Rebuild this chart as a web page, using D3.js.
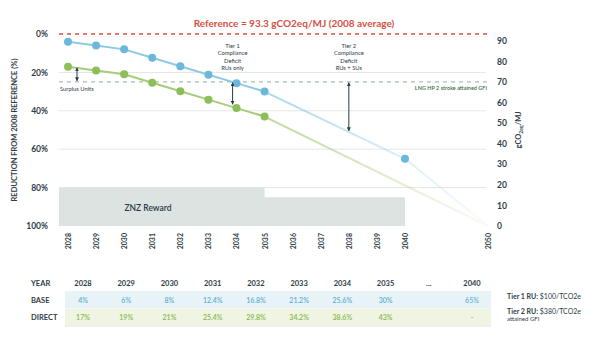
<!DOCTYPE html>
<html>
<head>
<meta charset="utf-8">
<script src="https://cdn.jsdelivr.net/npm/d3@7"></script>
<style>
  body { margin: 0; background: #fff; }
  svg { font-family: Lato, "Open Sans", sans-serif; }
</style>
</head>
<body>
<svg id="chart" width="600" height="341"></svg>
<script>
// chart data
const years = [2028, 2029, 2030, 2031, 2032, 2033, 2034, 2035, 2036, 2037, 2038, 2039, 2040, 2050];
const baseVals = [4, 6, 8, 12.4, 16.8, 21.2, 25.6, 30];
const directVals = [17, 19, 21, 25.4, 29.8, 34.2, 38.6, 43];
const baseTail = [[2035, 30], [2040, 65], [2050, 100]];
const directTail = [[2035, 43], [2050, 100]];
const pctTicks = [0, 20, 40, 60, 80, 100];
const gfiTicks = [0, 10, 20, 30, 40, 50, 60, 70, 80, 90];
const referenceGfi = 93.3;
const lngGfi = 70;
const znzSteps = [[2028, 80], [2035, 85], [2040, 85]];

// table data
const tableYears = ["2028", "2029", "2030", "2031", "2032", "2033", "2034", "2035", "...", "2040"];
const tableBase = ["4%", "6%", "8%", "12.4%", "16.8%", "21.2%", "25.6%", "30%", "", "65%"];
const tableDirect = ["17%", "19%", "21%", "25.4%", "29.8%", "34.2%", "38.6%", "43%", "", "-"];

const svg = d3.select("#chart");
const dark = "#2d3c47";
const blue = "#6cb7da", blueLine = "#8dcbe2";
const green = "#8dbf59", greenLine = "#a7cc78";
const red = "#d6503f";

const plotLeft = 59, plotRight = 488, plotTop = 34, plotBottom = 226;
const x = d3.scaleLinear().domain([2028, 2040, 2050]).range([68, 405, 488]);
const y = d3.scaleLinear().domain([0, 100]).range([plotTop, plotBottom]);
const yR = d3.scaleLinear().domain([0, referenceGfi]).range([plotBottom, plotTop]);

// gradients for faded tails
const defs = svg.append("defs");
function fadeGrad(id, color) {
  const g = defs.append("linearGradient").attr("id", id)
    .attr("gradientUnits", "userSpaceOnUse")
    .attr("x1", x(2035)).attr("x2", x(2050)).attr("y1", 0).attr("y2", 0);
  g.append("stop").attr("offset", 0).attr("stop-color", color).attr("stop-opacity", 0.75);
  g.append("stop").attr("offset", 1).attr("stop-color", color).attr("stop-opacity", 0.05);
}
fadeGrad("fadeBlue", blueLine);
fadeGrad("fadeGreen", greenLine);
["arrowEnd", "arrowStart"].forEach((id, i) => {
  defs.append("marker").attr("id", id)
    .attr("viewBox", "0 0 10 10").attr("refX", 9).attr("refY", 5)
    .attr("markerWidth", 4).attr("markerHeight", 4)
    .attr("orient", i === 0 ? "auto" : "auto-start-reverse")
    .append("path").attr("d", "M0,0 L10,5 L0,10 z").attr("fill", dark);
});

// gridlines
svg.append("g").selectAll("line").data([20, 40, 60, 80]).join("line")
  .attr("x1", plotLeft).attr("x2", plotRight - 2)
  .attr("y1", d => y(d)).attr("y2", d => y(d))
  .attr("stroke", "#e3e6e6").attr("stroke-width", 1);

// ZNZ reward area
const znzArea = d3.area().curve(d3.curveStepAfter)
  .x(d => d[0] === 2028 ? plotLeft : x(d[0]))
  .y0(plotBottom).y1(d => y(d[1]));
svg.append("path").datum(znzSteps).attr("d", znzArea).attr("fill", "#dde3e1");
svg.append("text").attr("x", 148).attr("y", 211).attr("text-anchor", "middle")
  .attr("font-size", 8.5).attr("font-weight", 600).attr("fill", dark).text("ZNZ Reward");

// reference line
svg.append("line").attr("x1", plotLeft).attr("x2", plotRight)
  .attr("y1", y(0)).attr("y2", y(0))
  .attr("stroke", red).attr("stroke-width", 1.4).attr("stroke-dasharray", "4,4");
svg.append("text").attr("x", 294).attr("y", 27).attr("text-anchor", "middle")
  .attr("font-size", 10).attr("font-weight", 700).attr("fill", red)
  .text("Reference = 93.3 gCO2eq/MJ (2008 average)");

// LNG line
svg.append("line").attr("x1", plotLeft).attr("x2", plotRight)
  .attr("y1", yR(lngGfi)).attr("y2", yR(lngGfi))
  .attr("stroke", "#aabfb0").attr("stroke-width", 1.2).attr("stroke-dasharray", "4,4");
svg.append("text").attr("x", plotRight - 1).attr("y", yR(lngGfi) + 8).attr("text-anchor", "end")
  .attr("font-size", 5.5).attr("font-weight", 600).attr("fill", "#3f6a43")
  .text("LNG HP 2 stroke attained GFI");

// lines
const line = d3.line().x(d => x(d[0])).y(d => y(d[1]));
const basePts = baseVals.map((v, i) => [years[i], v]);
const directPts = directVals.map((v, i) => [years[i], v]);
svg.append("path").datum(directTail).attr("d", line).attr("fill", "none")
  .attr("stroke", "url(#fadeGreen)").attr("stroke-width", 2);
svg.append("path").datum(baseTail).attr("d", line).attr("fill", "none")
  .attr("stroke", "url(#fadeBlue)").attr("stroke-width", 2);
svg.append("path").datum(directPts).attr("d", line).attr("fill", "none")
  .attr("stroke", greenLine).attr("stroke-width", 2);
svg.append("path").datum(basePts).attr("d", line).attr("fill", "none")
  .attr("stroke", blueLine).attr("stroke-width", 2);
svg.append("g").selectAll("circle").data(directPts).join("circle")
  .attr("cx", d => x(d[0])).attr("cy", d => y(d[1])).attr("r", 4).attr("fill", green);
svg.append("g").selectAll("circle").data(basePts.concat([baseTail[1]])).join("circle")
  .attr("cx", d => x(d[0])).attr("cy", d => y(d[1])).attr("r", 4).attr("fill", blue);

// annotations
function arrow(xv, p1, p2) {
  svg.append("line").attr("x1", x(xv)).attr("x2", x(xv))
    .attr("y1", y(p1)).attr("y2", y(p2))
    .attr("stroke", dark).attr("stroke-width", 1)
    .attr("marker-start", "url(#arrowStart)").attr("marker-end", "url(#arrowEnd)");
}
arrow(2028.32, 17.6, 24.4);
arrow(2033.86, 25.4, 36.6);
arrow(2038, 25.4, 50.5);
svg.append("text").attr("x", 60).attr("y", 91).attr("font-size", 5.8)
  .attr("fill", dark).text("Surplus Units");
function note(xv, lines) {
  const t = svg.append("text").attr("text-anchor", "middle").attr("font-size", 5.8).attr("fill", dark);
  lines.forEach((s, i) => t.append("tspan").attr("x", x(xv)).attr("y", 48 + i * 7.4).text(s));
}
note(2033.86, ["Tier 1", "Compliance", "Deficit", "RUs only"]);
note(2038, ["Tier 2", "Compliance", "Deficit", "RUs + SUs"]);

// axes
const yAxis = svg.append("g").attr("transform", `translate(${plotLeft - 8},0)`)
  .call(d3.axisLeft(y).tickValues(pctTicks).tickFormat(d => d + "%").tickSize(0));
const yAxisR = svg.append("g").attr("transform", `translate(${plotRight + 6},0)`)
  .call(d3.axisRight(yR).tickValues(gfiTicks).tickSize(0));
const xAxis = svg.append("g").attr("transform", `translate(0,${plotBottom + 6})`)
  .call(d3.axisBottom(x).tickValues(years).tickFormat(d3.format("d")).tickSize(0));
[yAxis, yAxisR, xAxis].forEach(a => {
  a.select(".domain").remove();
  a.selectAll("text").attr("font-family", "Lato, sans-serif").attr("font-weight", 700).attr("fill", dark);
});
yAxis.selectAll("text").attr("font-size", 8.5);
yAxisR.selectAll("text").attr("font-size", 8.5);
xAxis.selectAll("text").attr("font-size", 7)
  .attr("transform", "rotate(-90)").attr("text-anchor", "end")
  .attr("x", -1).attr("y", 0).attr("dy", "0.35em");

svg.append("text").attr("transform", "translate(17,130) rotate(-90)")
  .attr("text-anchor", "middle").attr("font-size", 7.5).attr("font-weight", 700).attr("fill", dark)
  .text("REDUCTION FROM 2008 REFERENCE (%)");
const rt = svg.append("text").attr("transform", "translate(521,130) rotate(-90)")
  .attr("text-anchor", "middle").attr("font-size", 7.5).attr("font-weight", 700).attr("fill", dark);
rt.append("tspan").text("gCO");
rt.append("tspan").attr("font-size", 5).attr("dy", 2).text("2");
rt.append("tspan").attr("font-size", 5).text("eq");
rt.append("tspan").attr("dy", -2).text("/MJ");

// table
const xT = d3.scalePoint().domain(tableYears).range([83, 472]);
const rowY = { year: 283, base: 300, direct: 317 };
svg.append("rect").attr("x", 65).attr("y", 291).attr("width", 426).attr("height", 17).attr("fill", "#e7f3f6");
svg.append("rect").attr("x", 65).attr("y", 308.5).attr("width", 426).attr("height", 17.5).attr("fill", "#eff4e3");
svg.append("line").attr("x1", 65).attr("x2", 491).attr("y1", 326).attr("y2", 326)
  .attr("stroke", "#e4e8e2").attr("stroke-width", 1);
[["YEAR", rowY.year], ["BASE", rowY.base], ["DIRECT", rowY.direct]].forEach(([s, yy]) => {
  svg.append("text").attr("x", 31).attr("y", yy + 3).attr("font-size", 7.5)
    .attr("font-weight", 700).attr("fill", dark).text(s);
});
svg.append("g").selectAll("text").data(tableYears).join("text")
  .attr("x", d => xT(d)).attr("y", rowY.year + 3).attr("text-anchor", "middle")
  .attr("font-size", 7.5).attr("font-weight", 700).attr("fill", dark).text(d => d);
svg.append("g").selectAll("text").data(tableBase).join("text")
  .attr("x", (d, i) => xT(tableYears[i])).attr("y", rowY.base + 2.5).attr("text-anchor", "middle")
  .attr("font-size", 7).attr("font-weight", 600).attr("fill", "#5eafd6").text(d => d);
svg.append("g").selectAll("text").data(tableDirect).join("text")
  .attr("x", (d, i) => xT(tableYears[i])).attr("y", rowY.direct + 2.5).attr("text-anchor", "middle")
  .attr("font-size", 7).attr("font-weight", 600).attr("fill", "#86b94c").text(d => d);

// tier prices
function price(yy, label, rest) {
  const t = svg.append("text").attr("x", 507).attr("y", yy).attr("font-size", 7).attr("fill", dark);
  t.append("tspan").attr("font-weight", 700).text(label);
  t.append("tspan").text(rest);
}
price(299, "Tier 1 RU: ", "$100/TCO2e");
price(314, "Tier 2 RU: ", "$380/TCO2e");
svg.append("text").attr("x", 507).attr("y", 321).attr("font-size", 6).attr("fill", dark).text("attained GFI");
</script>
</body>
</html>
